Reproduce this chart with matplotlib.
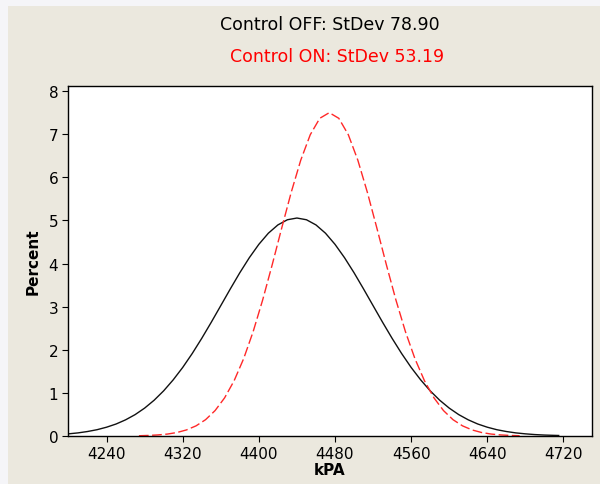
"""
Two fitted normal curves: pressure (kPA) with control OFF vs ON.
"""

import matplotlib
matplotlib.use("Agg")
import matplotlib.pyplot as plt
from matplotlib.patches import Rectangle

# Control OFF curve (black, solid)
off_kpa = [4200, 4210, 4220, 4230, 4240, 4250, 4260, 4270, 4280, 4290,
           4300, 4310, 4320, 4330, 4340, 4350, 4360, 4370, 4380, 4390,
           4400, 4410, 4420, 4430, 4440, 4450, 4460, 4470, 4480, 4490,
           4500, 4510, 4520, 4530, 4540, 4550, 4560, 4570, 4580, 4590,
           4600, 4610, 4620, 4630, 4640, 4650, 4660, 4670, 4680, 4690,
           4700, 4710, 4715]
off_pct = [0.050, 0.072, 0.104, 0.146, 0.204, 0.278, 0.375, 0.496, 0.647, 0.830,
           1.048, 1.302, 1.590, 1.913, 2.265, 2.638, 3.024, 3.411, 3.787, 4.136,
           4.446, 4.704, 4.896, 5.016, 5.056, 5.016, 4.896, 4.704, 4.446, 4.136,
           3.787, 3.411, 3.024, 2.638, 2.265, 1.913, 1.590, 1.302, 1.048, 0.830,
           0.647, 0.496, 0.375, 0.278, 0.204, 0.146, 0.104, 0.072, 0.050, 0.033,
           0.022, 0.015, 0.012]

# Control ON curve (red, dashed)
on_kpa = [4274, 4284, 4294, 4304, 4314, 4324, 4334, 4344, 4354, 4364,
          4374, 4384, 4394, 4404, 4414, 4424, 4434, 4444, 4454, 4464,
          4474, 4484, 4494, 4504, 4514, 4524, 4534, 4544, 4554, 4564,
          4574, 4584, 4594, 4604, 4614, 4624, 4634, 4644, 4654, 4664,
          4674]
on_pct = [0.006, 0.013, 0.025, 0.045, 0.081, 0.141, 0.235, 0.378, 0.589, 0.884,
          1.281, 1.792, 2.420, 3.155, 3.970, 4.822, 5.652, 6.397, 6.988, 7.369,
          7.500, 7.369, 6.988, 6.397, 5.652, 4.822, 3.970, 3.155, 2.420, 1.792,
          1.281, 0.884, 0.589, 0.378, 0.235, 0.141, 0.081, 0.045, 0.025, 0.013,
          0.006]

x_ticks = [4240, 4320, 4400, 4480, 4560, 4640, 4720]
y_ticks = [0, 1, 2, 3, 4, 5, 6, 7, 8]

title_off = "Control OFF: StDev 78.90"
title_on = "Control ON: StDev 53.19"

fig = plt.figure(figsize=(6, 4.85), dpi=100)
fig.patch.set_facecolor("#F5F5F8")
# beige panel behind everything (light strip left/top like the original window)
fig.patches.append(Rectangle((8 / 600, 0), 1, 1 - 7 / 485, transform=fig.transFigure,
                             facecolor="#EBE8DE", edgecolor="none", zorder=-1))

ax = fig.add_axes([68 / 600, 1 - 437 / 485, 524 / 600, 350.5 / 485])
ax.set_facecolor("white")

ax.plot(off_kpa, off_pct, color="#111111", linewidth=1.0)
ax.plot(on_kpa, on_pct, color="#FF2828", linewidth=1.0, dashes=(7, 2.5))

ax.set_xlim(4199.5, 4750)
ax.set_ylim(0, 8.13)
ax.set_xticks(x_ticks)
ax.set_yticks(y_ticks)
ax.tick_params(direction="out", length=4, width=0.8, labelsize=11, pad=3)

for s in ax.spines.values():
    s.set_linewidth(1.0)
    s.set_color("black")

ax.set_xlabel("kPA", fontsize=11, fontweight="bold", labelpad=1)
ax.set_ylabel("Percent", fontsize=11, fontweight="bold", labelpad=6)

fig.text(329.5 / 600, 1 - 25.5 / 485, title_off, ha="center", va="center",
         fontsize=12.5, color="black")
fig.text(336.7 / 600, 1 - 57 / 485, title_on, ha="center", va="center",
         fontsize=12.5, color="#FF0000")

fig.savefig("out.png", dpi=100, facecolor=fig.get_facecolor())
plt.close(fig)
